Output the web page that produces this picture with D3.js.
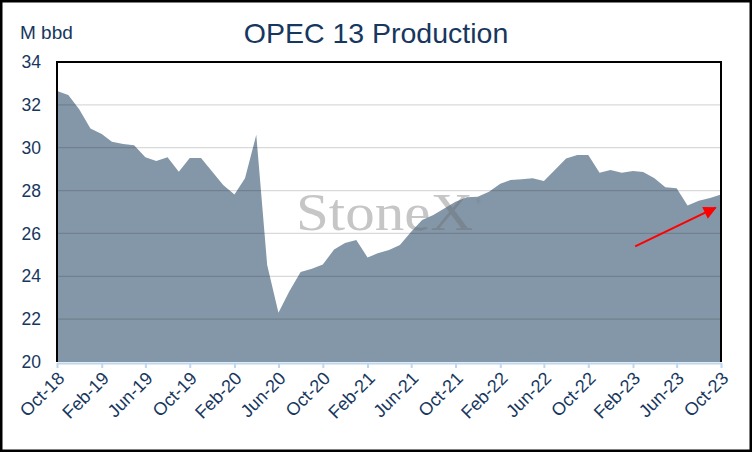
<!DOCTYPE html>
<html>
<head>
<meta charset="utf-8">
<script src="https://cdn.jsdelivr.net/npm/d3@7"></script>
<style>
  html, body { margin: 0; padding: 0; background: #fff; }
  svg { display: block; font-family: "Liberation Sans", Arial, sans-serif; }
</style>
</head>
<body>
<div id="chart"></div>
<script>
// monthly production, Oct-18 .. Oct-23 (M bbd)
var startMonth = new Date(2018, 9, 1);
var endMonth = new Date(2023, 9, 1);
var production = [
    32.65, 32.46, 31.80, 30.90, 30.64, 30.28, 30.17, 30.11, 29.55, 29.38,
    29.55, 28.88, 29.52, 29.52, 28.90, 28.26, 27.82, 28.57, 30.60, 24.53,
    22.30, 23.30, 24.20, 24.35, 24.55, 25.25, 25.55, 25.69, 24.88, 25.07,
    25.23, 25.46, 26.08, 26.63, 26.86, 27.17, 27.48, 27.69, 27.71, 27.95,
    28.32, 28.49, 28.53, 28.57, 28.45, 28.96, 29.50, 29.66, 29.66, 28.83,
    28.96, 28.83, 28.91, 28.87, 28.58, 28.16, 28.11, 27.30, 27.52, 27.65,
    27.82
];
var yTicks = [20, 22, 24, 26, 28, 30, 32, 34];
var xTickLabels = ["Oct-18", "Feb-19", "Jun-19", "Oct-19", "Feb-20", "Jun-20", "Oct-20", "Feb-21",
    "Jun-21", "Oct-21", "Feb-22", "Jun-22", "Oct-22", "Feb-23", "Jun-23", "Oct-23"];
// trend arrow, in data units (tail -> tip)
var arrowDates = [new Date(2023, 1, 7), new Date(2023, 8, 16)];
var arrowValues = [25.4, 27.2];

var months = d3.timeMonths(startMonth, d3.timeMonth.offset(endMonth, 1));
var data = months.map(function(d, i) { return {date: d, value: production[i]}; });
var tickDates = months.filter(function(d, i) { return i % 4 === 0; });

var width = 752, height = 452;
var margin = {top: 62, right: 31, bottom: 90, left: 57};
var navy = "#17375e";

var svg = d3.select("#chart").append("svg")
    .attr("width", width)
    .attr("height", height);

var x = d3.scaleTime()
    .domain([startMonth, endMonth])
    .range([margin.left, width - margin.right]);
var y = d3.scaleLinear()
    .domain([20, 34])
    .range([height - margin.bottom, margin.top]);

//Area
var area = d3.area()
    .x(function(d) { return x(d.date); })
    .y0(y(20))
    .y1(function(d) { return y(d.value); });

svg.append("path")
    .datum(data)
    .attr("fill", "#8497a8")
    .attr("d", area);

//Gridlines on top so they darken the area
svg.append("g")
    .selectAll("line")
    .data(yTicks.filter(function(t) { return t > 20 && t < 34; }))
    .join("line")
    .attr("x1", margin.left)
    .attr("x2", width - margin.right)
    .attr("y1", function(d) { return y(d); })
    .attr("y2", function(d) { return y(d); })
    .attr("stroke", "#000")
    .attr("stroke-opacity", 0.15)
    .attr("stroke-width", 1.3);

//Watermark
var wm = svg.append("g")
    .attr("fill", "#6a6a6a")
    .attr("fill-opacity", 0.38);
wm.append("text")
    .attr("x", 296)
    .attr("y", 230)
    .attr("textLength", 177)
    .attr("lengthAdjust", "spacingAndGlyphs")
    .style("font-family", "'Liberation Serif', 'Times New Roman', serif")
    .style("font-size", "52px")
    .text("StoneX");
wm.append("text")
    .attr("x", 475)
    .attr("y", 204)
    .style("font-family", "'Liberation Serif', serif")
    .style("font-size", "9px")
    .text("\u00ae");

//Plot frame (top, left, right)
svg.append("path")
    .attr("d", d3.line()([
        [x.range()[0], y(20)], [x.range()[0], y(34)],
        [x.range()[1], y(34)], [x.range()[1], y(20)]
    ]))
    .attr("fill", "none")
    .attr("stroke", "#000")
    .attr("stroke-width", 2);

//X axis
var xAxis = svg.append("g")
    .attr("transform", "translate(0," + (y(20) + 1) + ")")
    .call(d3.axisBottom(x).tickValues(tickDates).tickSize(5).tickSizeOuter(0).tickFormat(""));
xAxis.select(".domain").attr("stroke", "#bdd7ee").attr("stroke-width", 2);
xAxis.selectAll(".tick line").attr("stroke", "#bdd7ee").attr("stroke-width", 2);

svg.append("g")
    .selectAll("text")
    .data(tickDates)
    .join("text")
    .attr("transform", function(d) { return "translate(" + (x(d) + 4) + "," + 375 + ") rotate(-45)"; })
    .attr("text-anchor", "end")
    .attr("dy", "0.35em")
    .attr("fill", navy)
    .style("font-size", "18px")
    .text(function(d, i) { return xTickLabels[i]; });

//Y labels
svg.append("g")
    .selectAll("text")
    .data(yTicks)
    .join("text")
    .attr("x", 41)
    .attr("y", function(d) { return y(d); })
    .attr("dy", "0.35em")
    .attr("text-anchor", "end")
    .attr("fill", navy)
    .style("font-size", "17.5px")
    .text(function(d) { return d; });

svg.append("text")
    .attr("x", 20)
    .attr("y", 39)
    .attr("fill", navy)
    .style("font-size", "19px")
    .text("M bbd");

//Title
svg.append("text")
    .attr("x", 376)
    .attr("y", 43)
    .attr("text-anchor", "middle")
    .attr("fill", navy)
    .style("font-size", "28.5px")
    .text("OPEC 13 Production");

//Trend arrow
svg.append("defs").append("marker")
    .attr("id", "head")
    .attr("viewBox", "0 0 10 10")
    .attr("refX", 9)
    .attr("refY", 5)
    .attr("markerWidth", 7.5)
    .attr("markerHeight", 6.5)
    .attr("markerUnits", "strokeWidth")
    .attr("orient", "auto")
    .append("path")
    .attr("d", "M0,0L10,5L0,10Z")
    .attr("fill", "#ff0000");

svg.append("line")
    .attr("x1", x(arrowDates[0]))
    .attr("y1", y(arrowValues[0]))
    .attr("x2", x(arrowDates[1]))
    .attr("y2", y(arrowValues[1]))
    .attr("stroke", "#ff0000")
    .attr("stroke-width", 2)
    .attr("marker-end", "url(#head)");

//Outer border
svg.append("rect")
    .attr("x", 1.25)
    .attr("y", 1.25)
    .attr("width", width - 2.5)
    .attr("height", height - 2.5)
    .attr("fill", "none")
    .attr("stroke", "#000")
    .attr("stroke-width", 2.5);
</script>
</body>
</html>
